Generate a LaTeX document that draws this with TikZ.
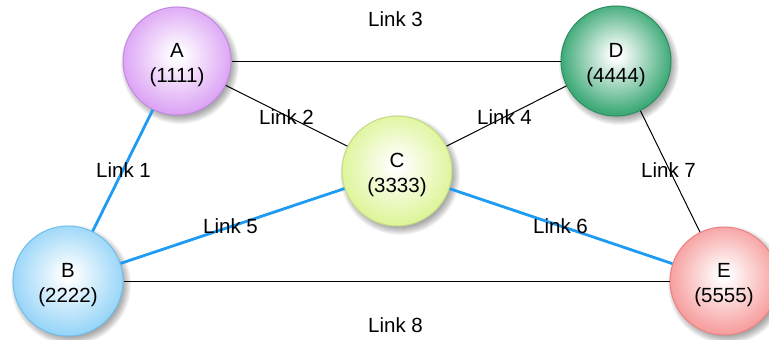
\documentclass[tikz,border=0pt]{standalone}
\usepackage{fontspec}
\setmainfont{Liberation Sans}
\definecolor{rimA}{HTML}{DDA6F5}
\definecolor{bdA}{HTML}{C488E2}
\definecolor{rimB}{HTML}{9AD6F8}
\definecolor{bdB}{HTML}{6CC0F0}
\definecolor{rimC}{HTML}{DFF59C}
\definecolor{bdC}{HTML}{C4DA84}
\definecolor{rimD}{HTML}{3FAA78}
\definecolor{bdD}{HTML}{2A8E5E}
\definecolor{rimE}{HTML}{F7A0A0}
\definecolor{bdE}{HTML}{EC8080}
\definecolor{linkblue}{HTML}{1E9BF2}
\pgfdeclareradialshading{ballA}{\pgfpoint{0bp}{3bp}}{color(0bp)=(white); color(2bp)=(white); color(25bp)=(rimA); color(50bp)=(rimA)}
\pgfdeclareradialshading{ballB}{\pgfpoint{0bp}{3bp}}{color(0bp)=(white); color(2bp)=(white); color(25bp)=(rimB); color(50bp)=(rimB)}
\pgfdeclareradialshading{ballC}{\pgfpoint{0bp}{3bp}}{color(0bp)=(white); color(2bp)=(white); color(25bp)=(rimC); color(50bp)=(rimC)}
\pgfdeclareradialshading{ballD}{\pgfpoint{0bp}{3bp}}{color(0bp)=(white); color(2bp)=(white); color(25bp)=(rimD); color(50bp)=(rimD)}
\pgfdeclareradialshading{ballE}{\pgfpoint{0bp}{3bp}}{color(0bp)=(white); color(2bp)=(white); color(25bp)=(rimE); color(50bp)=(rimE)}
\begin{document}
\begin{tikzpicture}[x=1pt,y=-1pt,
  ball/.style={circle,inner sep=0pt,minimum size=#1},
  nodetext/.style={font=\fontsize{20.5}{25}\selectfont,align=center,inner sep=0pt},
  linklabel/.style={font=\fontsize{20.5}{24}\selectfont,anchor=base west,inner sep=0pt},
  thinlink/.style={draw=black,line width=1pt},
  bluelink/.style={draw=linkblue,line width=2.8pt},
  softshadow/.style={fill=black,opacity=0.045}]
\useasboundingbox (0,0) rectangle (769,340);
\fill[white] (0,0) rectangle (769,340);
% shadows
\foreach \cx/\cy/\r in {177/61/54,68/281/55,397/171/55,616/61/55,724/281/54}{
  \foreach \d in {-3,-2,...,5}{
    \fill[softshadow] (\cx+3,\cy+4) circle ({\r+\d});
  }
}
% nodes
\node[ball=108pt,shading=ballA,draw=bdA,line width=1pt] (A) at (177,61) {};
\node[ball=110pt,shading=ballB,draw=bdB,line width=1pt] (B) at (68,281) {};
\node[ball=110pt,shading=ballC,draw=bdC,line width=1pt] (C) at (397,171) {};
\node[ball=110pt,shading=ballD,draw=bdD,line width=1pt] (D) at (616,61) {};
\node[ball=108pt,shading=ballE,draw=bdE,line width=1pt] (E) at (724,281) {};
\node[nodetext] (tA) at ([yshift=-3.7pt]A.center) {A\\(1111)};
\node[nodetext] (tB) at ([yshift=-3.7pt]B.center) {B\\(2222)};
\node[nodetext] (tC) at ([yshift=-3.7pt]C.center) {C\\(3333)};
\node[nodetext] (tD) at ([yshift=-3.7pt]D.center) {D\\(4444)};
\node[nodetext] (tE) at ([yshift=-3.7pt]E.center) {E\\(5555)};
% links
\draw[bluelink] (A) -- (B);
\draw[thinlink] (A) -- (C);
\draw[thinlink] (A) -- (D);
\draw[thinlink] (C) -- (D);
\draw[bluelink] (B) -- (C);
\draw[bluelink] (C) -- (E);
\draw[thinlink] (D) -- (E);
\draw[thinlink] (B) -- (E);
% labels
\node[linklabel] (l1) at (96,177) {Link 1};
\node[linklabel] (l2) at (259,124) {Link 2};
\node[linklabel] (l3) at (368,27) {Link 3};
\node[linklabel] (l4) at (477,124) {Link 4};
\node[linklabel] (l5) at (203,233) {Link 5};
\node[linklabel] (l6) at (533,233) {Link 6};
\node[linklabel] (l7) at (641,177) {Link 7};
\node[linklabel] (l8) at (368,332) {Link 8};
\end{tikzpicture}
\end{document}
